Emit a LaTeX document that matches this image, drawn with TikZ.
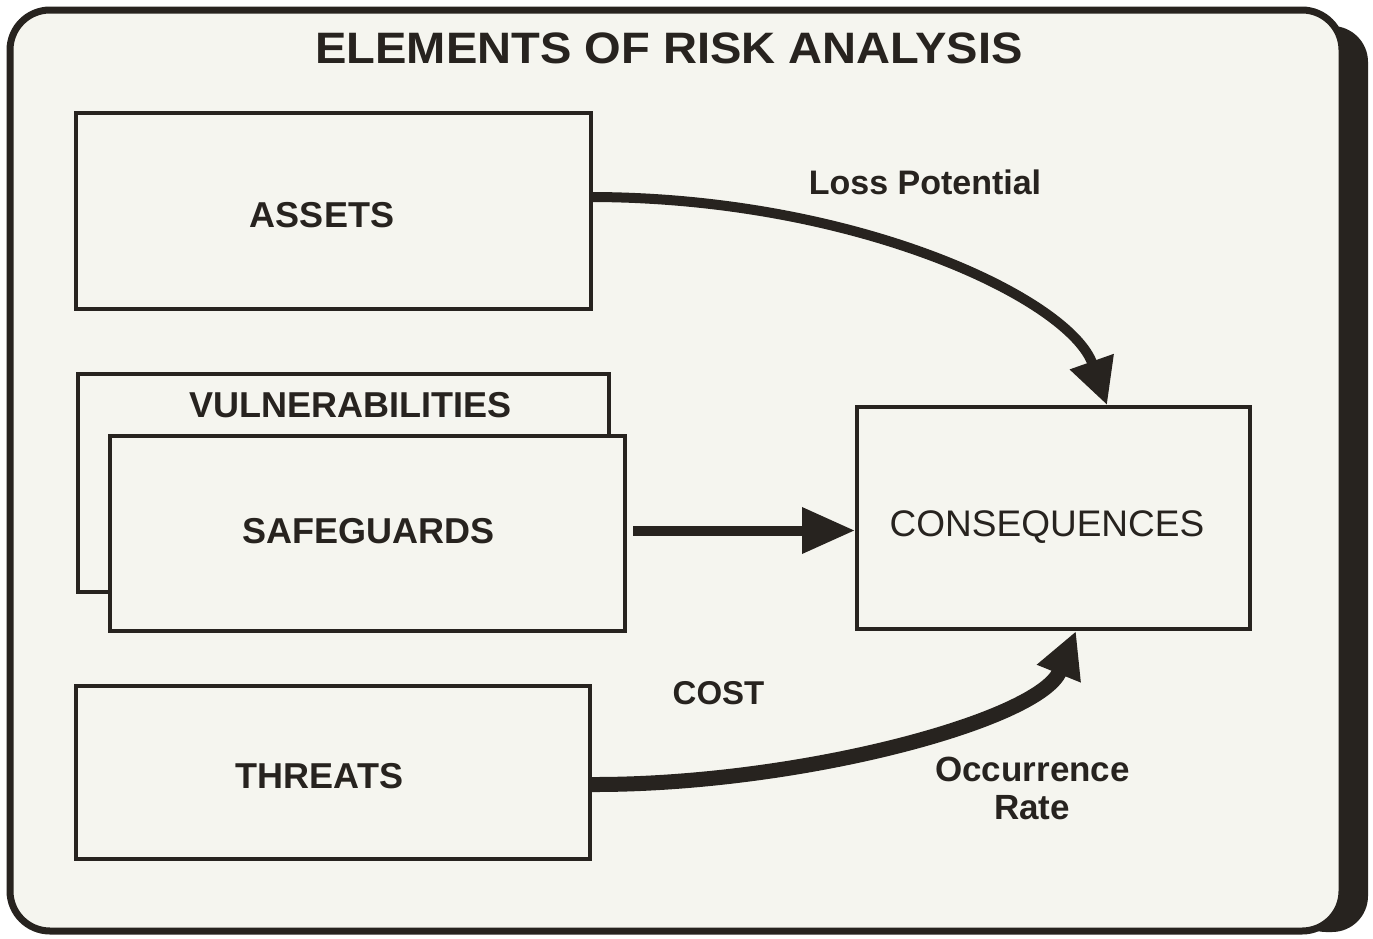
\documentclass[tikz,border=0pt]{standalone}
\usepackage{fontspec}
\setmainfont{Liberation Sans}
\usetikzlibrary{arrows.meta,calc}
\definecolor{ink}{HTML}{27231F}
\definecolor{paper}{HTML}{F5F5EF}
\begin{document}
\begin{tikzpicture}[x=1pt,y=-1pt,
  box/.style={draw=ink, line width=4pt, fill=paper, inner sep=0pt},
  lbl/.style={text=ink, inner sep=0pt, font=\fontsize{36}{40}\selectfont\bfseries},
  conn/.style={draw=ink, line width=#1},
  bighead/.style={-{Triangle[length=46pt,width=44pt]}}
]
\useasboundingbox (0,0) rectangle (1373,938);
\fill[white] (0,0) rectangle (1373,938);
% frame with shadow
\fill[ink, rounded corners=36pt] (1290,26) rectangle (1368,932);
\fill[paper, rounded corners=40pt] (10,10) rectangle (1342,931);
\draw[ink, line width=7pt, rounded corners=40pt] (10,10) rectangle (1342,931);

% boxes
\node[box, minimum width=515pt, minimum height=196pt] (assets) at (333.5,211) {};
\node[box, minimum width=531pt, minimum height=218pt] (vuln) at (343.5,483) {};
\node[box, minimum width=515pt, minimum height=195pt] (safe) at (367.5,533.5) {};
\node[box, minimum width=514pt, minimum height=173pt] (threats) at (333,772.5) {};
\node[box, minimum width=393pt, minimum height=222pt] (cons) at (1053.5,518) {};

% texts
\node[text=ink, inner sep=0pt] (title) at (669,48) {\scalebox{1.07}[1]{\fontsize{44}{48}\selectfont\bfseries ELEMENTS OF RISK ANALYSIS}};
\node[lbl] (tassets) at (322,215) {ASSETS};
\node[lbl] (tvuln) at (350.5,405) {VULNERABILITIES};
\node[lbl] (tsafe) at (368.5,531) {SAFEGUARDS};
\node[lbl] (tthreats) at (319.5,776) {THREATS};
\node[lbl, font=\fontsize{37}{40}\selectfont] (tcons) at (1047,527) {CONSEQUENCES};
\node[lbl, font=\fontsize{34}{38}\selectfont\bfseries] (tloss) at (925,182) {Loss Potential};
\node[lbl, font=\fontsize{33}{38}\selectfont\bfseries] (tcost) at (718.5,693) {COST};
\node[lbl, font=\fontsize{35}{38}\selectfont\bfseries] (tocc) at (1032.5,769) {Occurrence};
\node[lbl, font=\fontsize{35}{38}\selectfont\bfseries] (trate) at (1032,808) {Rate};

% connectors
\coordinate (lossend) at ($(cons.north west)+(252,0)$);
\coordinate (threatend) at ($(cons.south west)+(221,0)$);
\draw[conn=10pt, bighead] ($(assets.east)+(0,-14)$) .. controls (860,198) and (1070,300) .. (lossend);
\draw[conn=10pt, -{Triangle[length=53pt,width=44pt]}] ($(safe.east)+(6,-3)$) -- ($(safe.east -| cons.west)+(0,-3)$);
\draw[conn=15pt, bighead] ($(threats.east)+(0,12)$) .. controls (800,785) and (1040,720) .. (threatend);
\end{tikzpicture}
\end{document}
